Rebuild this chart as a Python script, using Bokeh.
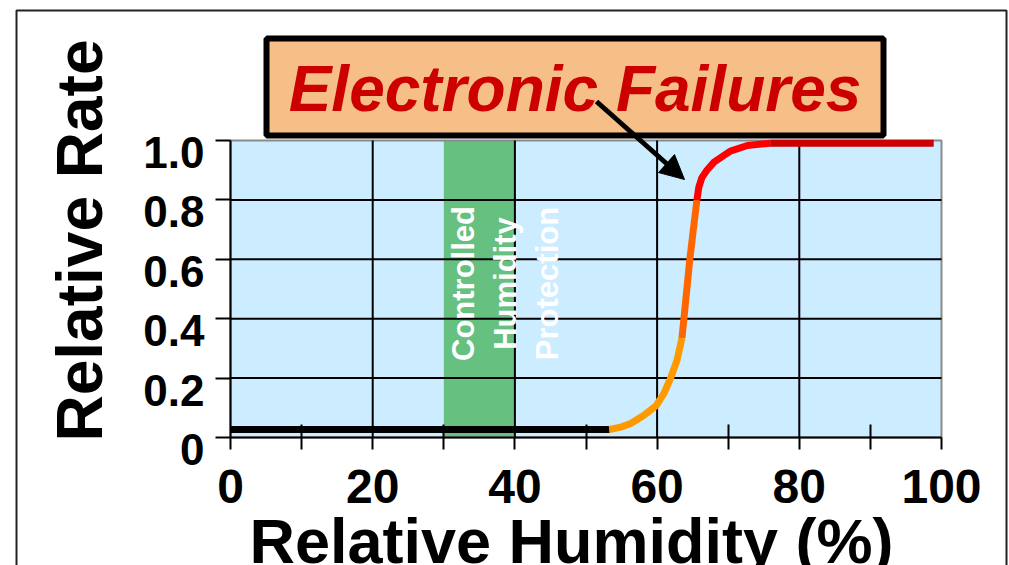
import math
from bokeh.plotting import figure
from bokeh.models import (Range1d, FixedTicker, Label, Arrow, NormalHead, LinearAxis)
from bokeh.embed import file_html
from bokeh.resources import INLINE

FONT = "Liberation Sans"

# ---------------- data ----------------
# curve segments (relative humidity %, relative rate)
black_x = [0, 53.3]
black_y = [0.027, 0.027]

orange_x = [53.3, 54.9, 56.3, 58.1, 59.9, 61.0, 61.9, 62.8, 63.5]
orange_y = [0.027, 0.035, 0.047, 0.074, 0.108, 0.150, 0.200, 0.260, 0.335]

darkorange_x = [63.5, 64.6, 65.6]
darkorange_y = [0.335, 0.600, 0.800]

red_x = [65.6, 65.87, 66.3, 67.0, 68.0, 70.3, 72.7, 75.9]
red_y = [0.800, 0.843, 0.875, 0.900, 0.927, 0.964, 0.983, 0.991]

darkred_x = [75.9, 98.9]
darkred_y = [0.991, 0.991]

# controlled humidity band
band_left = [30]
band_right = [40]

x_ticks = [0, 20, 40, 60, 80, 100]
x_minor_ticks = [10, 30, 50, 70, 90]
x_grid = [20, 40, 60, 80]
y_ticks = [0, 0.2, 0.4, 0.6, 0.8, 1.0]
y_tick_labels = ["0", "0.2", "0.4", "0.6", "0.8", "1.0"]
y_grid = [0.2, 0.4, 0.6, 0.8]

title_text = "Electronic Failures"
band_text = "Controlled\nHumidity\nProtection"
x_title = "Relative Humidity (%)"
y_title = "Relative Rate"

# ---------------- layout helpers (pixels -> data) ----------------
W, H = 1009, 565
PX_L, PX_R, PX_T, PX_B = 230, 941, 140, 437      # plot area in the picture
sx = (PX_R - PX_L) / 100.0
sy = (PX_B - PX_T) / 1.0


def dx(px):
    return (px - PX_L) / sx


def dy(py):
    return (PX_B - py) / sy


p = figure(width=W, height=H,
           x_range=Range1d(dx(0), dx(W)), y_range=Range1d(dy(H), dy(0)),
           output_backend="svg", toolbar_location=None,
           min_border=0, min_border_left=0, min_border_right=0,
           min_border_top=0, min_border_bottom=0)
p.background_fill_color = "white"
p.border_fill_color = "white"
p.outline_line_color = None
p.xgrid.visible = False
p.ygrid.visible = False

# outer frame
p.quad(left=[dx(16)], right=[dx(1006)], top=[dy(10)], bottom=[dy(H + 40)],
       fill_color=None, line_color="#222222", line_width=2, level="image")

# plot area background + green band
p.quad(left=[0], right=[100], bottom=[0], top=[1],
       fill_color="#CCECFF", line_color=None, level="image")
p.quad(left=band_left, right=band_right, bottom=[0], top=[1],
       fill_color="#66C080", line_color=None, level="image")
p.quad(left=[0], right=[100], bottom=[0], top=[1],
       fill_color=None, line_color="#8a8a8a", line_width=2, level="underlay")

# grid lines
p.segment(x0=x_grid, y0=[0] * len(x_grid), x1=x_grid, y1=[1] * len(x_grid),
          line_color="black", line_width=2, level="underlay")
p.segment(x0=[0] * len(y_grid), y0=y_grid, x1=[100] * len(y_grid), y1=y_grid,
          line_color="black", line_width=2, level="underlay")

# axes
xa = p.xaxis[0]
ya = p.yaxis[0]
xa.fixed_location = 0
ya.fixed_location = 0
xa.bounds = (0, 100)
ya.bounds = (0, 1)
xa.ticker = FixedTicker(ticks=x_ticks, minor_ticks=x_minor_ticks)
ya.ticker = FixedTicker(ticks=y_ticks)
for ax in (xa, ya):
    ax.axis_line_color = "black"
    ax.axis_line_width = 2
    ax.major_tick_line_color = "black"
    ax.major_tick_line_width = 2
    ax.major_tick_in = 0
    ax.major_label_text_font = FONT
    ax.major_label_text_font_style = "bold"
    ax.major_label_text_color = "black"
xa.major_tick_out = 12
xa.minor_tick_in = 13
xa.minor_tick_out = 12
xa.minor_tick_line_color = "black"
xa.minor_tick_line_width = 2
xa.major_label_text_font_size = "48px"
xa.major_label_standoff = 20
ya.major_tick_out = 15
ya.minor_tick_line_color = None
ya.major_label_text_color = None

# y tick labels sit slightly below their ticks in the original
shift = 12 / sy
lab_ticks = [t - shift for t in y_ticks]
yl = LinearAxis(fixed_location=0, bounds=(-0.2, 1.0),
                ticker=FixedTicker(ticks=lab_ticks),
                axis_line_color=None, major_tick_line_color=None,
                minor_tick_line_color=None, major_tick_in=0, major_tick_out=0,
                major_label_standoff=26,
                major_label_overrides={t: l for t, l in zip(lab_ticks, y_tick_labels)},
                major_label_text_font=FONT, major_label_text_font_style="bold",
                major_label_text_font_size="44px", major_label_text_color="black")
p.add_layout(yl, "left")

# curve
LW = 7
p.line(black_x, black_y, line_color="black", line_width=LW)
p.line(orange_x, orange_y, line_color="#FF9900", line_width=LW)
p.line(darkorange_x, darkorange_y, line_color="#FF6600", line_width=LW)
p.line(red_x, red_y, line_color="#FF0000", line_width=LW)
p.line(darkred_x, darkred_y, line_color="#CC0000", line_width=LW)

# band text
p.add_layout(Label(x=dx(505), y=dy(283), text=band_text, angle=math.pi / 2,
                   text_align="center", text_baseline="middle",
                   text_font=FONT, text_font_style="bold",
                   text_font_size="31px", text_color="white",
                   text_line_height=1.2))

# title box
p.quad(left=[dx(266)], right=[dx(883)], top=[dy(38)], bottom=[dy(135)],
       fill_color="#F5BF87", line_color="black", line_width=6)
p.add_layout(Label(x=dx(574.5), y=dy(88), text=title_text,
                   text_align="center", text_baseline="middle",
                   text_font=FONT, text_font_style="bold italic",
                   text_font_size="64px", text_color="#CC0000"))

# arrow
p.add_layout(Arrow(end=NormalHead(size=24, fill_color="black", line_color="black"),
                   x_start=dx(596), y_start=dy(101), x_end=dx(684), y_end=dy(179),
                   line_color="black", line_width=5))

# axis titles
p.add_layout(Label(x=dx(79), y=dy(240), text=y_title, angle=math.pi / 2,
                   text_align="center", text_baseline="middle",
                   text_font=FONT, text_font_style="bold",
                   text_font_size="64px", text_color="black"))
p.add_layout(Label(x=dx(571), y=dy(540), text=x_title,
                   text_align="center", text_baseline="middle",
                   text_font=FONT, text_font_style="bold",
                   text_font_size="63px", text_color="black"))

open("out.html", "w").write(file_html(p, INLINE))
